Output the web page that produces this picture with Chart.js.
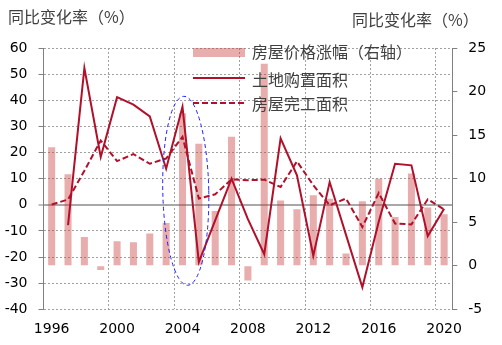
<!DOCTYPE html>
<html>
<head>
<meta charset="utf-8">
<script src="https://cdn.jsdelivr.net/npm/chart.js"></script>
<style>
  body { margin: 0; background: #fff; }
  canvas { display: block; }
</style>
</head>
<body>
<canvas id="chart" width="502" height="345"></canvas>
<script>
// years on the x axis
const years = ['1996', '1997', '1998', '1999', '2000', '2001', '2002', '2003', '2004', '2005',
  '2006', '2007', '2008', '2009', '2010', '2011', '2012', '2013', '2014', '2015',
  '2016', '2017', '2018', '2019', '2020'];

// 房屋价格涨幅 (right axis, %)
const priceGrowth = [13.6, 10.5, 3.3, -0.5, 2.8, 2.7, 3.7, 4.9, 17.5, 14.0,
  6.3, 14.8, -1.7, 23.2, 7.5, 6.5, 8.1, 7.7, 1.4, 7.4,
  10.0, 5.6, 10.6, 6.7, 5.9];

// 土地购置面积 (left axis, %)
const landPurchase = [null, -7.8, 52.3, 18.3, 41.2, 38.3, 33.8, 13.8, 37.5, -21.9,
  -6.0, 10.0, -5.5, -18.9, 25.4, 11.3, -19.5, 8.7, -11.5, -31.6,
  -6.5, 15.7, 15.1, -12.0, -1.5];

// 房屋完工面积 (left axis, %)
const completedArea = [0.1, 2.0, 13.0, 24.6, 16.7, 19.4, 15.7, 17.7, 26.0, 2.4,
  4.0, 9.7, 9.4, 9.6, 6.8, 16.6, 7.5, -0.2, 2.4, -8.5,
  4.5, -7.2, -7.5, 2.1, -1.8];

const leftTicks = { min: -40, max: 60, step: 10 };
const rightTicks = { min: -5, max: 25, step: 5 };

const red = '#b0102a';
const barColor = 'rgba(200,60,60,0.42)';
const tickFont = { family: 'DejaVu Sans', size: 14 };
const cjk = '"Noto Sans CJK SC", sans-serif';

const overlay = {
  id: 'overlay',
  afterDatasetsDraw(chart) {
    const { ctx, scales } = chart;
    // blue dashed ellipse around 2004
    const cx = scales.x.getPixelForValue(8.2);
    const top = scales.y.getPixelForValue(41.5);
    const bottom = scales.y.getPixelForValue(-30.8);
    ctx.save();
    ctx.strokeStyle = '#2020ff';
    ctx.lineWidth = 1;
    ctx.setLineDash([4, 3]);
    ctx.beginPath();
    ctx.ellipse(cx, (top + bottom) / 2, 23, (bottom - top) / 2, -0.02, 0, Math.PI * 2);
    ctx.stroke();
    ctx.restore();
  },
  afterDraw(chart) {
    const ctx = chart.ctx;
    ctx.save();
    ctx.font = '16px ' + cjk;
    ctx.fillStyle = '#404040';
    ctx.textBaseline = 'middle';
    ctx.textAlign = 'left';
    ctx.fillText('同比变化率（%）', 8, 17);
    ctx.fillText('同比变化率（%）', 352, 20);

    // legend
    const x0 = 193, w = 52, tx = 252;
    ctx.fillStyle = barColor;
    ctx.fillRect(x0, 48, w, 9);
    ctx.strokeStyle = red;
    ctx.lineWidth = 2;
    ctx.beginPath();
    ctx.moveTo(x0, 78); ctx.lineTo(x0 + w, 78);
    ctx.stroke();
    ctx.setLineDash([6, 3]);
    ctx.beginPath();
    ctx.moveTo(x0, 103); ctx.lineTo(x0 + w, 103);
    ctx.stroke();
    ctx.setLineDash([]);
    ctx.fillStyle = '#404040';
    ctx.fillText('房屋价格涨幅（右轴）', tx, 52);
    ctx.fillText('土地购置面积', tx, 80);
    ctx.fillText('房屋完工面积', tx, 104);
    ctx.restore();
  }
};

new Chart(document.getElementById('chart'), {
  type: 'bar',
  data: {
    labels: years,
    datasets: [
      {
        type: 'line',
        label: '土地购置面积',
        data: landPurchase,
        yAxisID: 'y',
        borderColor: red,
        borderWidth: 2,
        pointRadius: 0,
        fill: false,
        tension: 0,
        order: 1,
      },
      {
        type: 'line',
        label: '房屋完工面积',
        data: completedArea,
        yAxisID: 'y',
        borderColor: red,
        borderWidth: 2,
        borderDash: [6, 3],
        pointRadius: 0,
        fill: false,
        tension: 0,
        order: 2,
      },
      {
        type: 'bar',
        label: '房屋价格涨幅（右轴）',
        data: priceGrowth,
        yAxisID: 'y1',
        backgroundColor: barColor,
        borderWidth: 0,
        categoryPercentage: 0.5,
        barPercentage: 0.86,
        order: 3,
      },
    ],
  },
  options: {
    responsive: false,
    devicePixelRatio: 1,
    animation: false,
    layout: { padding: { top: 48, left: 0, right: 0, bottom: 0 } },
    plugins: {
      legend: { display: false },
      tooltip: { enabled: false },
    },
    scales: {
      x: {
        offset: true,
        afterFit(s) { s.height = 35.7; },
        grid: {
          offset: true,
          drawTicks: false,
          color: (c) => (c.index % 4 === 0 ? '#a0a0a0' : 'rgba(0,0,0,0)'),
          lineWidth: 1,
        },
        border: { display: false, dash: [2, 2] },
        ticks: {
          autoSkip: false,
          maxRotation: 0,
          padding: 12,
          color: '#000',
          font: tickFont,
          callback(value, index) {
            return index % 4 === 0 ? this.getLabelForValue(value) : '';
          },
        },
      },
      y: {
        position: 'left',
        min: leftTicks.min,
        max: leftTicks.max,
        afterFit(s) { s.width = 43.5; },
        ticks: { stepSize: leftTicks.step, padding: 11, color: '#000', font: tickFont },
        grid: {
          color: (c) => (c.tick && c.tick.value === 0 ? '#a8a8a8' : '#a0a0a0'),
          lineWidth: (c) => (c.tick && c.tick.value === 0 ? 2 : 1),
          tickColor: '#808080',
          tickLength: 5,
          tickWidth: 1,
        },
        border: {
          color: '#808080',
          width: 1,
          dash: (c) => (c.tick && c.tick.value !== 0 ? [2, 2] : []),
        },
      },
      y1: {
        position: 'right',
        min: rightTicks.min,
        max: rightTicks.max,
        afterFit(s) { s.width = 49.7; },
        ticks: { stepSize: rightTicks.step, padding: 11, color: '#000', font: tickFont },
        grid: {
          drawOnChartArea: false,
          tickColor: '#808080',
          tickLength: 5,
          tickWidth: 1,
        },
        border: { color: '#808080', width: 1 },
      },
    },
  },
  plugins: [overlay],
});
</script>
</body>
</html>
